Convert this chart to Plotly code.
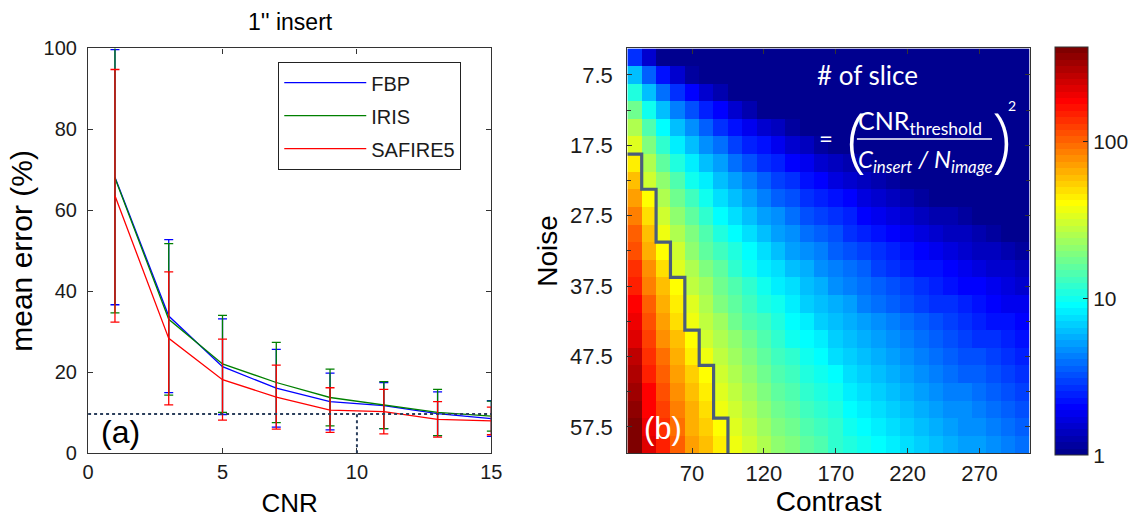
import numpy as np
import plotly.graph_objects as go

# ---- panel (a): mean error vs CNR for three reconstructions ----
cnr = [1, 3, 5, 7, 9, 11, 13, 15]
fbp_mean = [68.2, 33.9, 21.4, 16.1, 12.8, 11.8, 9.8, 8.6]
fbp_err = [31.5, 18.9, 11.8, 9.6, 7.0, 5.7, 5.4, 4.4]
iris_mean = [68.0, 33.1, 22.1, 17.5, 13.8, 11.9, 10.1, 9.2]
iris_err = [33.3, 18.7, 12.0, 9.9, 7.0, 5.8, 5.7, 3.7]
safire_mean = [63.6, 28.4, 18.2, 13.9, 10.7, 10.3, 8.4, 8.0]
safire_err = [31.2, 16.4, 10.0, 7.9, 5.5, 5.5, 4.4, 3.4]
error_limit = 9.7      # acceptable mean error (%)
cnr_threshold = 10     # CNR reaching that error

# ---- panel (b): number of slices needed over contrast / noise grid ----
contrast = [30, 40, 50, 60, 70, 80, 90, 100, 110, 120, 130, 140, 150, 160,
            170, 180, 190, 200, 210, 220, 230, 240, 250, 260, 270, 280, 290, 300]
noise = [5.0, 7.5, 10.0, 12.5, 15.0, 17.5, 20.0, 22.5, 25.0, 27.5, 30.0, 32.5,
         35.0, 37.5, 40.0, 42.5, 45.0, 47.5, 50.0, 52.5, 55.0, 57.5, 60.0]
slice_limit = 38       # outlined region: slices above this count
cbar_ticks = [1, 10, 100]

C, N = np.meshgrid(np.array(contrast, float), np.array(noise, float))
slices = (cnr_threshold / (C / N)) ** 2     # # of slice = (CNR_thr / (C/N))^2
zlog = np.log10(slices)
zmax = np.log10(slices.max())

# MATLAB-style jet(64), drawn as discrete steps
def jet_color(t):
    r = np.clip(1.5 - abs(4 * t - 3), 0, 1)
    g = np.clip(1.5 - abs(4 * t - 2), 0, 1)
    b = np.clip(1.5 - abs(4 * t - 1), 0, 1)
    return f"rgb({int(r*255)},{int(g*255)},{int(b*255)})"

jet = []
for i in range(64):
    c = jet_color((i + 1) / 64)
    jet.append([i / 64, c])
    jet.append([(i + 1) / 64, c])

# page geometry helpers (pixels -> paper fractions)
W, H = 1134, 518
ML, MR, MT, MB = 0, 60, 10, 30
PW, PH = W - ML - MR, H - MT - MB
def fx(px):
    return (px - ML) / PW
def fy(py):
    return (H - MB - py) / PH

FONT = "Liberation Sans, Arial, sans-serif"
NARROW = "Liberation Sans Narrow, Arial Narrow, Liberation Sans, sans-serif"
TXT = "#1b1b1b"

fig = go.Figure()

for name, m, e, col in [("FBP", fbp_mean, fbp_err, "#0000ff"),
                        ("IRIS", iris_mean, iris_err, "#008000"),
                        ("SAFIRE5", safire_mean, safire_err, "#ff0000")]:
    fig.add_trace(go.Scatter(
        x=cnr, y=m, name=name, mode="lines", legendgroup=name,
        line=dict(color=col, width=1.3),
        error_y=dict(type="data", array=e, color=col, thickness=1.3, width=4.5),
        xaxis="x", yaxis="y"))

fig.add_trace(go.Heatmap(
    x=contrast, y=noise, z=zlog, zmin=0, zmax=zmax,
    colorscale=jet, xaxis="x2", yaxis="y2", showscale=True,
    hovertemplate="Contrast %{x}<br>Noise %{y}<extra></extra>",
    colorbar=dict(
        x=fx(1057), xanchor="left", y=fy(251), yanchor="middle",
        lenmode="pixels", len=408, thicknessmode="pixels", thickness=33,
        tickvals=np.log10(cbar_ticks).tolist(), ticktext=[str(v) for v in cbar_ticks],
        ticks="inside", ticklen=5, tickcolor="#222", outlinewidth=1,
        outlinecolor="#333", tickfont=dict(family=FONT, size=21, color=TXT),
        xpad=0, ypad=0)))

# staircase outline of the region where slices exceed the limit
xe = [contrast[0] - 5 + 10 * k for k in range(len(contrast) + 1)]
counts = (slices >= slice_limit).sum(axis=1)
px, py = [], []
for j, k in enumerate(counts):
    if k == 0:
        continue
    top, bot = noise[j] - 1.25, noise[j] + 1.25
    if not px:
        px.append(xe[0]); py.append(top)
    px += [xe[k], xe[k]]
    py += [top, bot]
fig.add_trace(go.Scatter(x=px, y=py, mode="lines", showlegend=False,
                         line=dict(color="#4a5d7c", width=3.2),
                         xaxis="x2", yaxis="y2", hoverinfo="skip"))

dom_y = [fy(453.3), fy(47.5)]
axis_common = dict(showline=True, linecolor="#333", linewidth=1.3, mirror="ticks",
                   ticks="inside", ticklen=5, tickcolor="#333", showgrid=False,
                   zeroline=False)

fig.update_layout(
    width=W, height=H, margin=dict(l=ML, r=MR, t=MT, b=MB),
    paper_bgcolor="white", plot_bgcolor="white",
    font=dict(family=FONT, color=TXT),
    xaxis=dict(domain=[fx(82.7), fx(489)], range=[0, 15], dtick=5, anchor="y",
               tickfont=dict(family=FONT, size=20, color=TXT), ticklabelstandoff=0,
               title=dict(text="CNR", font=dict(size=26, color="#000"), standoff=14),
               **axis_common),
    yaxis=dict(domain=dom_y, range=[0, 100], dtick=20, anchor="x",
               tickfont=dict(family=FONT, size=20, color=TXT), ticklabelstandoff=6,
               title=dict(text="mean error (%)", font=dict(size=30, color="#000"), standoff=2),
               **axis_common),
    xaxis2=dict(domain=[fx(626), fx(1031.5)], range=[25, 305], tick0=70, dtick=50, anchor="y2",
                tickfont=dict(family=FONT, size=22, color=TXT), ticklabelstandoff=0,
                title=dict(text="Contrast", font=dict(size=28, color="#000"), standoff=4),
                **axis_common),
    yaxis2=dict(domain=dom_y, range=[61.25, 3.75], tick0=7.5, dtick=10, anchor="x2",
                minor=dict(tick0=2.5, dtick=5, ticks="inside", ticklen=4, tickcolor="#333"),
                tickfont=dict(family=FONT, size=22, color=TXT), ticklabelstandoff=9,
                title=dict(text="Noise", font=dict(family=NARROW, size=28, color="#000"),
                           standoff=4),
                **axis_common),
    legend=dict(x=fx(274), y=fy(61), xanchor="left", yanchor="top",
                bordercolor="#222", borderwidth=1.3, bgcolor="white",
                tracegroupgap=4, font=dict(family=FONT, size=20, color=TXT),
                itemwidth=82),
    showlegend=True,
)

# reference lines at the error limit and the CNR that reaches it
fig.add_shape(type="line", xref="x", yref="y", x0=0, x1=15, y0=error_limit, y1=error_limit,
              line=dict(color="#2b3f5c", width=2, dash="dot"))
fig.add_shape(type="line", xref="x", yref="y", x0=cnr_threshold, x1=cnr_threshold,
              y0=0, y1=error_limit, line=dict(color="#2b3f5c", width=2, dash="dot"))

ann = []
ann.append(dict(text="1'' insert", xref="paper", yref="paper", x=fx(287), y=fy(21),
                xanchor="center", yanchor="middle",
                showarrow=False, font=dict(family=FONT, size=23, color="#000")))
ann.append(dict(text="(a)", xref="x", yref="y", x=1.2, y=5.4, showarrow=False,
                font=dict(family=FONT, size=32, color="#000")))
ann.append(dict(text="(b)", xref="x2", yref="y2", x=50, y=57.7, showarrow=False,
                font=dict(family=FONT, size=31, color="white")))

# formula overlay on panel (b)
FF = "Lato, Open Sans, sans-serif"
WH = "white"
ann += [
    dict(text="# of slice", x=192.3, y=7.5, font=dict(family=FF, size=26, color=WH)),
    dict(text="=", x=163.3, y=16.4, font=dict(family=FF, size=24, color=WH)),
    dict(text="(", x=184.3, y=16.3, font=dict(family="Open Sans", size=70, color=WH, weight=300)),
    dict(text=")", x=285.5, y=16.3, font=dict(family="Open Sans", size=70, color=WH, weight=300)),
    dict(text="2", x=292.6, y=11.9, font=dict(family=FF, size=14, color=WH)),
    dict(text="CNR<sub>threshold</sub>", x=228.8, y=14.2, font=dict(family=FF, size=25, color=WH)),
    dict(text="<i>C</i><sub><i>insert</i></sub> <i>/ N</i><sub><i>image</i></sub>",
         x=232.6, y=19.7, font=dict(family=FF, size=24, color=WH)),
]
for a in ann[3:]:
    a.setdefault("xref", "x2")
    a.setdefault("yref", "y2")
    a["showarrow"] = False
fig.update_layout(annotations=ann)
fig.add_shape(type="line", xref="x2", yref="y2", x0=184.7, x1=278.7, y0=16.6, y1=16.6,
              line=dict(color=WH, width=1.5))

fig.write_html("out.html")
